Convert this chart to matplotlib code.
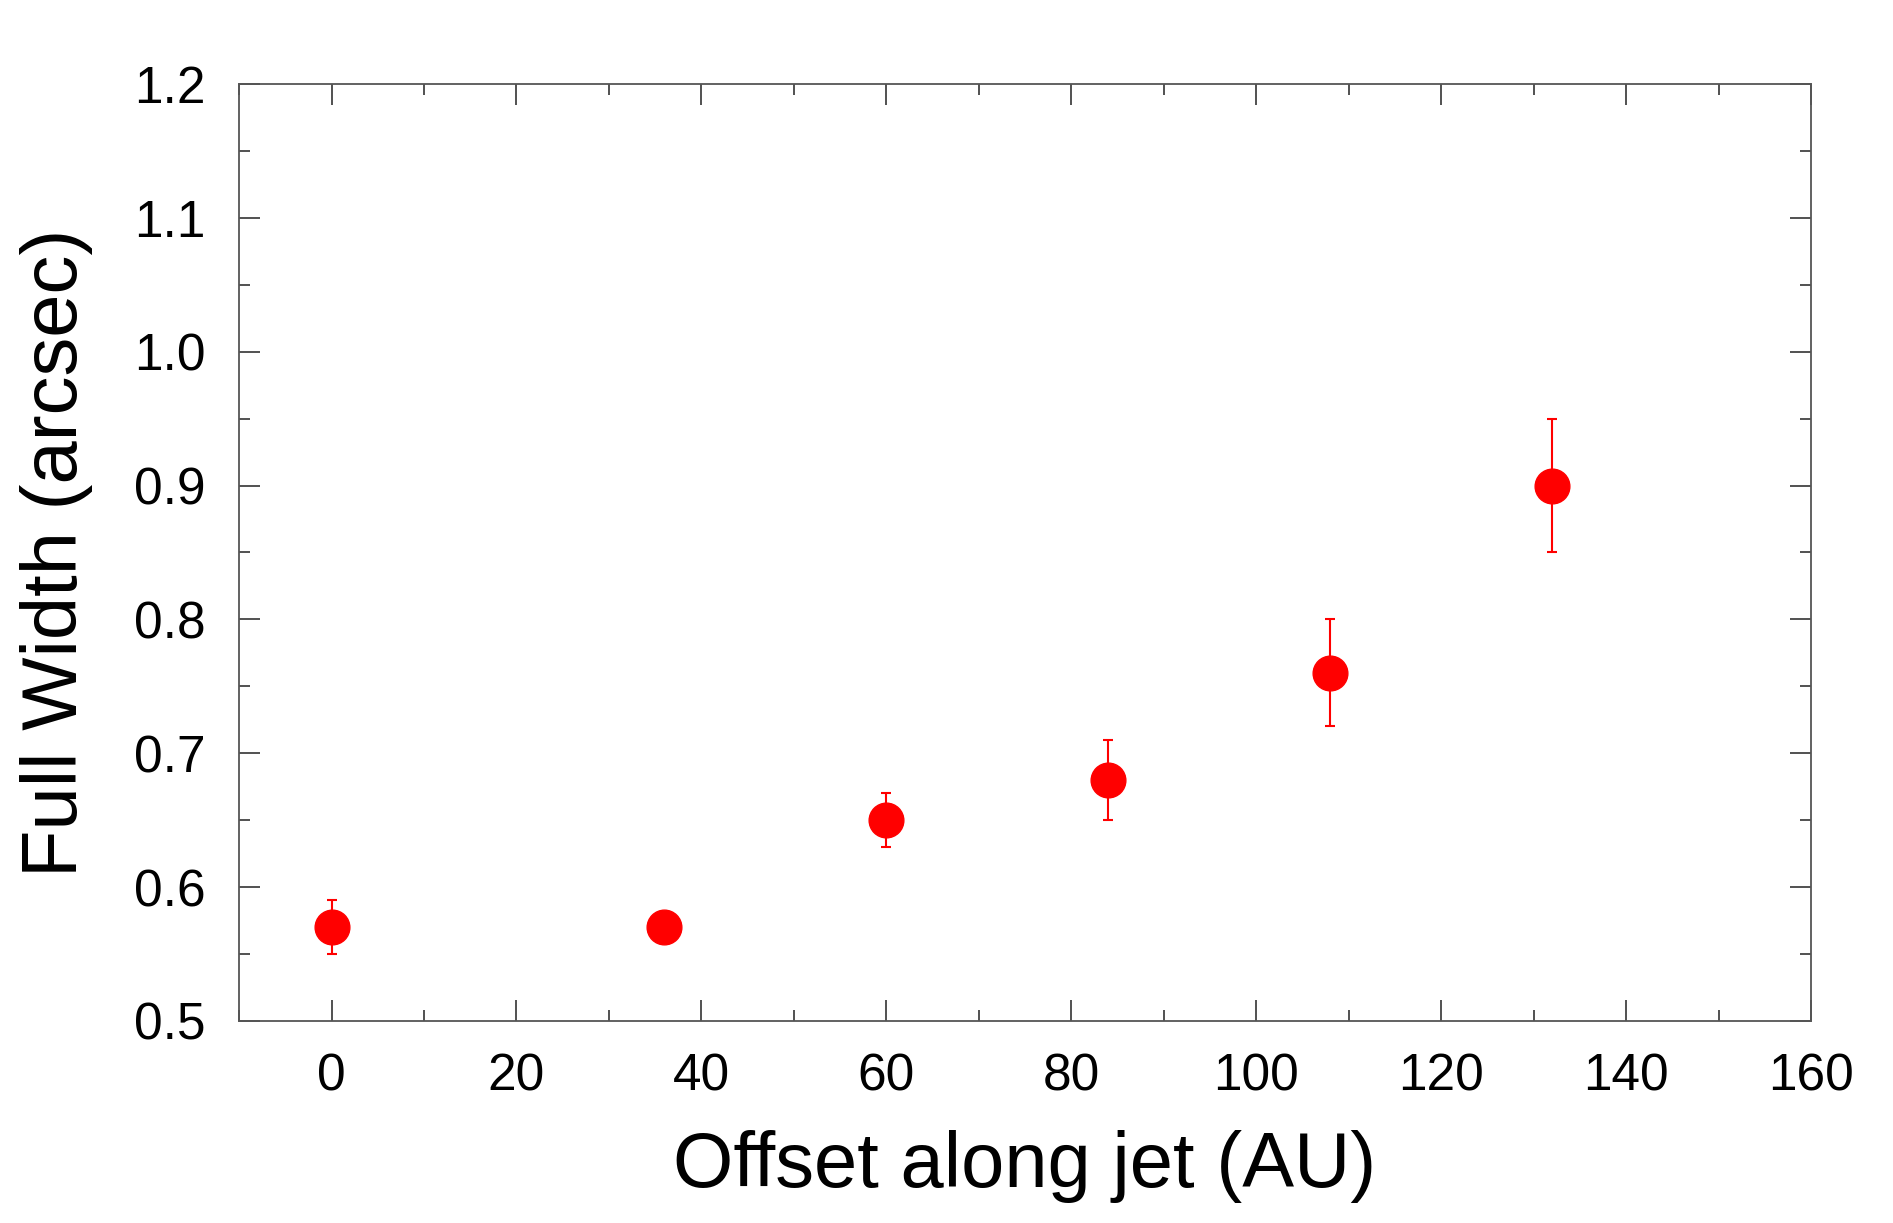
import numpy as np
import matplotlib
matplotlib.use("Agg")
import matplotlib.pyplot as plt
from matplotlib.ticker import MultipleLocator

plt.rcParams['font.family'] = ['Liberation Sans', 'DejaVu Sans']

# offset along jet (AU), full width (arcsec), error
offset = [0, 36, 60, 84, 108, 132]
width = [0.57, 0.57, 0.65, 0.68, 0.76, 0.90]
width_err = [0.02, 0.01, 0.02, 0.03, 0.04, 0.05]

fig = plt.figure(figsize=(18.93, 12.23), dpi=100)
ax = fig.add_axes([0.1263, 0.1652, 0.8304, 0.7661])

ax.errorbar(offset, width, yerr=width_err, fmt='o', color='red',
            markersize=25, elinewidth=1.5, capsize=3.5, capthick=1.5)

ax.set_xlim(-10, 160)
ax.set_ylim(0.5, 1.2)
ax.xaxis.set_major_locator(MultipleLocator(20))
ax.xaxis.set_minor_locator(MultipleLocator(10))
ax.yaxis.set_major_locator(MultipleLocator(0.1))
ax.yaxis.set_minor_locator(MultipleLocator(0.05))
ax.yaxis.set_major_formatter(plt.FormatStrFormatter('%.1f'))

for s in ax.spines.values():
    s.set_color('#555555')
    s.set_linewidth(1.3)

ax.tick_params(which='both', direction='in', top=True, right=True,
               color='#333333', width=1.2, labelsize=37)
ax.tick_params(which='major', length=15)
ax.tick_params(which='minor', length=8)
ax.tick_params(axis='y', which='major', pad=24)
ax.tick_params(axis='x', which='major', pad=23)

ax.set_xlabel('Offset along jet (AU)', fontsize=56)
ax.set_ylabel('Full Width (arcsec)', fontsize=56)
ax.xaxis.set_label_coords(0.5, -0.116)
ax.yaxis.set_label_coords(-0.093, 0.5)

fig.savefig('out.png', dpi=100)
